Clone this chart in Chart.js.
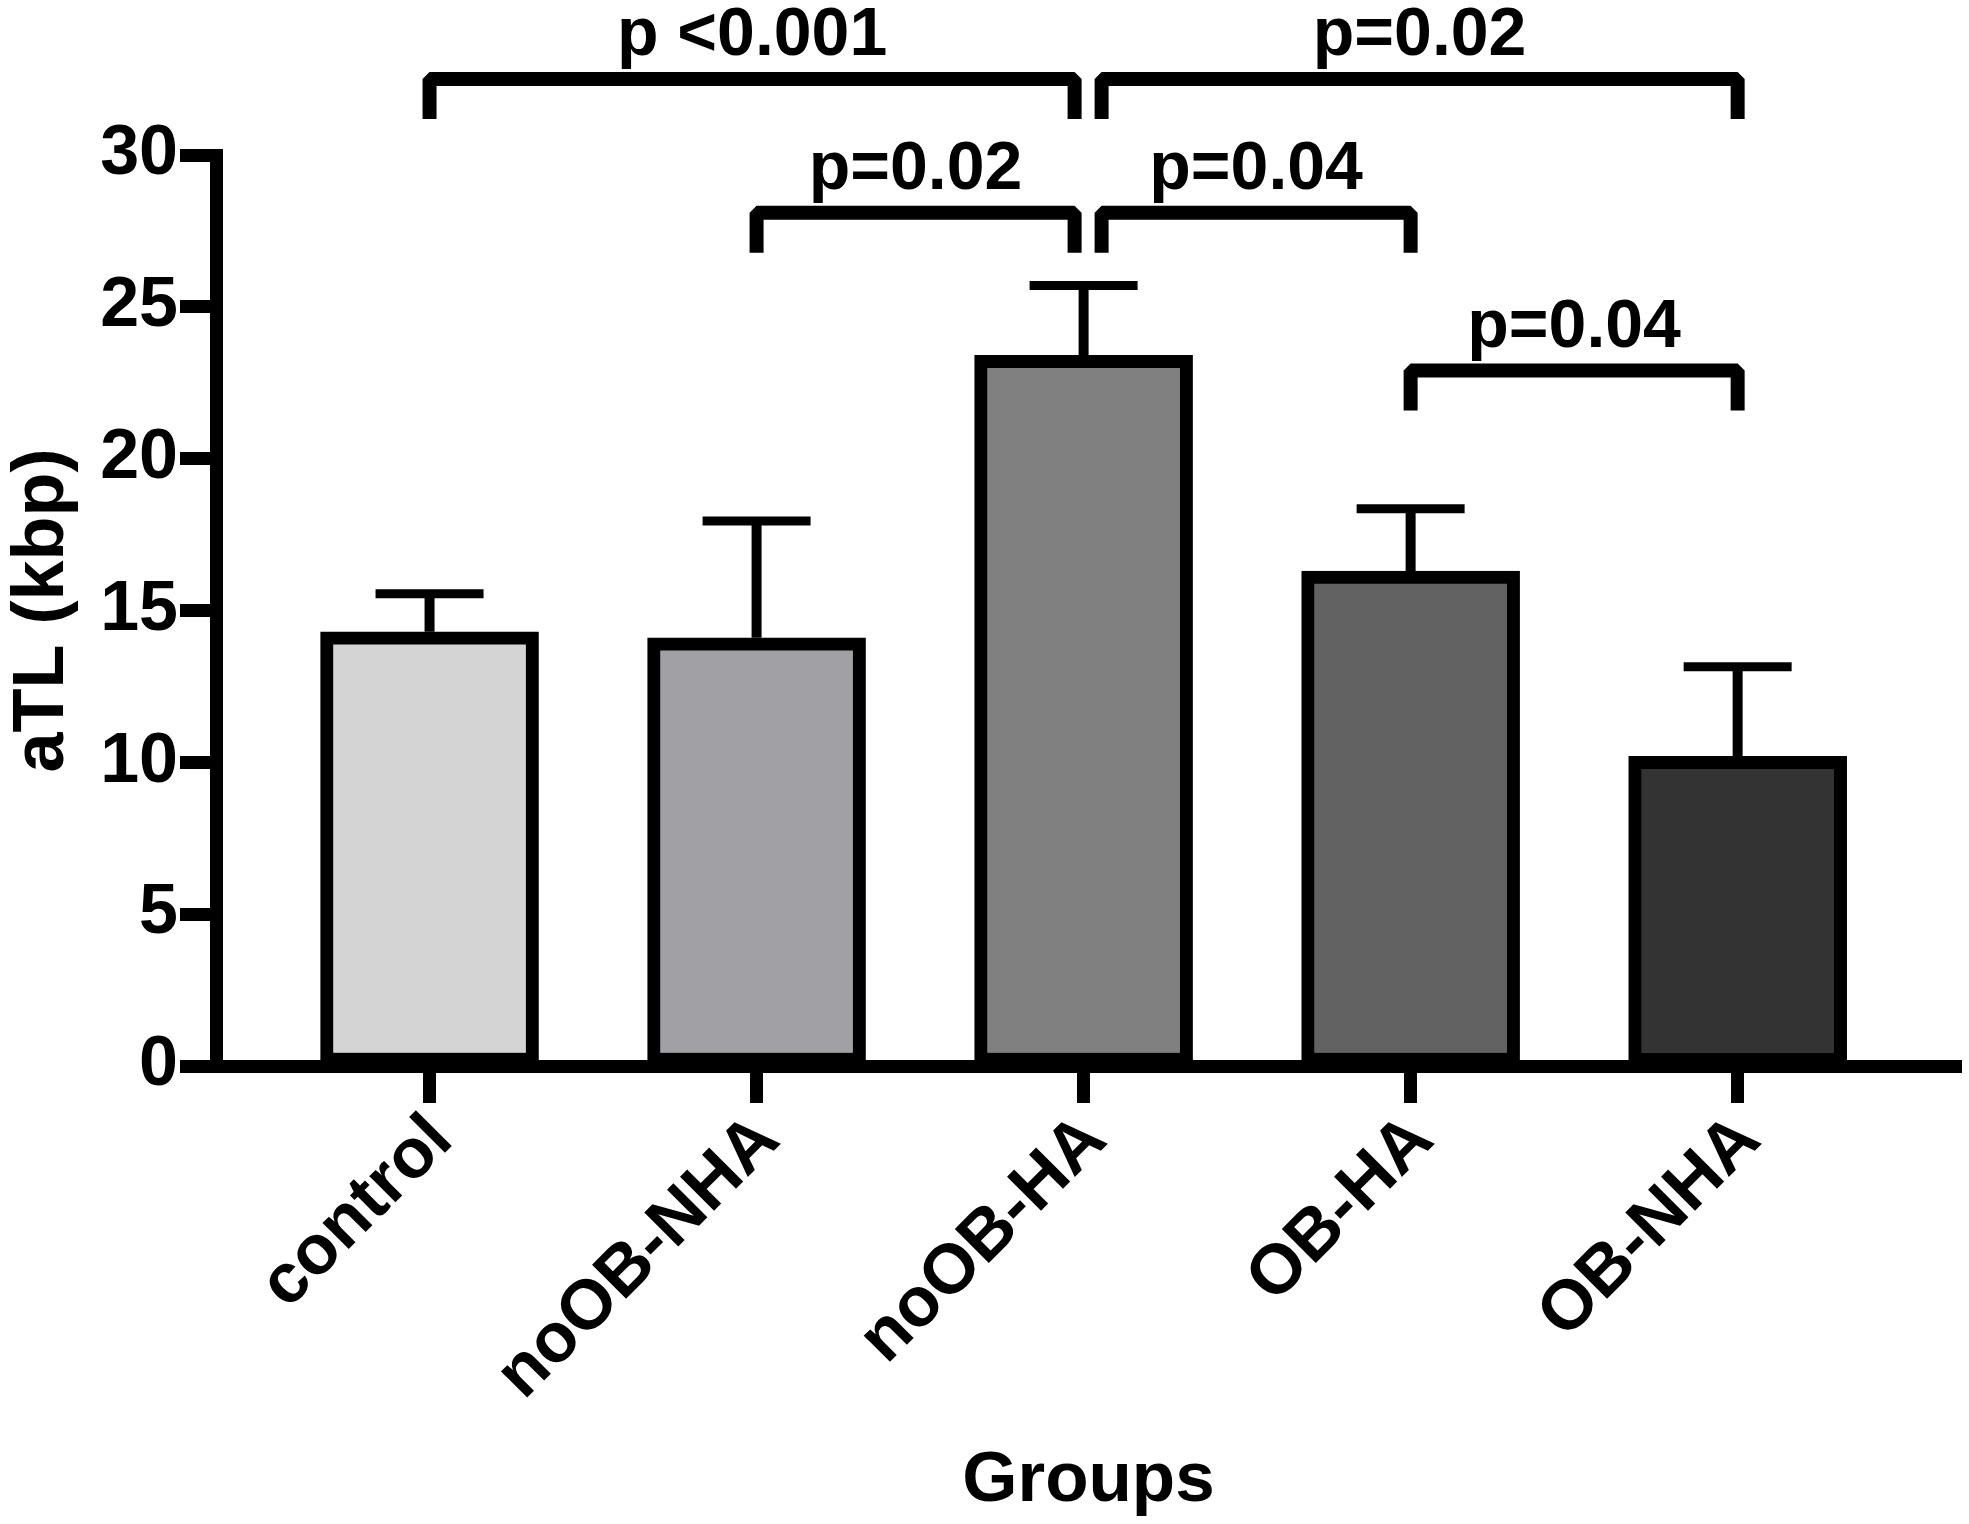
<!DOCTYPE html>
<html>
<head>
<meta charset="utf-8">
<title>aTL by group</title>
<script src="https://cdn.jsdelivr.net/npm/chart.js@4.4.1/dist/chart.umd.min.js"></script>
<style>
  html, body { margin: 0; padding: 0; background: #fff; }
  #wrap { width: 1969px; height: 1524px; }
</style>
</head>
<body>
<div id="wrap"><canvas id="myChart"></canvas></div>
<script>
const groups = ['control', 'noOB-NHA', 'noOB-HA', 'OB-HA', 'OB-NHA'];
const meanTL = [14.3, 14.1, 23.4, 16.3, 10.2];
const semTL = [1.25, 3.85, 2.3, 2.05, 2.95];
const barColors = ['#d4d4d4', '#a1a0a5', '#808080', '#626262', '#333333'];
const yTicks = [0, 5, 10, 15, 20, 25, 30];

// comparisons : from group, to group, bracket height (kbp), label
const cmpFrom = [0, 2, 1, 2, 3];
const cmpTo = [2, 4, 2, 3, 4];
const cmpLevel = [32.5, 32.5, 28.1, 28.1, 22.9];
const cmpLabels = ['p <0.001', 'p=0.02', 'p=0.02', 'p=0.04', 'p=0.04'];

const FONT = "'Liberation Sans', Arial, sans-serif";

// error bars (upper only) + significance brackets
const extras = {
  id: 'extras',
  afterDatasetsDraw(chart) {
    const { ctx, scales: { x, y } } = chart;
    ctx.save();
    ctx.strokeStyle = '#000';
    ctx.fillStyle = '#000';
    ctx.lineCap = 'butt';
    meanTL.forEach((m, i) => {
      const px = x.getPixelForValue(i);
      const top = y.getPixelForValue(m + semTL[i]);
      ctx.lineWidth = 10;
      ctx.beginPath();
      ctx.moveTo(px, y.getPixelForValue(m));
      ctx.lineTo(px, top);
      ctx.stroke();
      ctx.lineWidth = 9;
      ctx.beginPath();
      ctx.moveTo(px - 54, top);
      ctx.lineTo(px + 54, top);
      ctx.stroke();
    });

    ctx.lineWidth = 14;
    ctx.lineJoin = 'bevel';
    ctx.font = `bold 68px ${FONT}`;
    ctx.textAlign = 'center';
    ctx.textBaseline = 'alphabetic';
    cmpFrom.forEach((a, k) => {
      const b = cmpTo[k];
      const lvl = cmpLevel[k];
      // brackets on the same row that meet on one bar are pulled apart a little
      const sameRow = (j) => j !== k && cmpLevel[j] === lvl;
      let x1 = x.getPixelForValue(a);
      let x2 = x.getPixelForValue(b);
      if (cmpTo.some((t, j) => t === a && sameRow(j))) x1 += 18;
      if (cmpFrom.some((f, j) => f === b && sameRow(j))) x2 -= 9;
      const ly = y.getPixelForValue(lvl);
      ctx.beginPath();
      ctx.moveTo(x1, ly + 40);
      ctx.lineTo(x1, ly);
      ctx.lineTo(x2, ly);
      ctx.lineTo(x2, ly + 40);
      ctx.stroke();
      ctx.fillText(cmpLabels[k], (x1 + x2) / 2, ly - 24);
    });
    ctx.restore();
  }
};

let myChart;

const setup = () => {
  const ctxt = document.getElementById('myChart').getContext('2d');

  myChart = new Chart(ctxt, {
    type: 'bar',
    data: {
      datasets: [{
        label: 'aTL',
        data: meanTL.map((v, i) => ({ x: i, y: v })),
        backgroundColor: barColors,
        borderColor: '#000',
        borderWidth: 13,
        borderSkipped: false,
        barThickness: 218
      }]
    },
    options: {
      responsive: true,
      maintainAspectRatio: false,
      animation: false,
      devicePixelRatio: 1,
      layout: { padding: { top: 155, right: 8, bottom: 0, left: 0 } },
      plugins: {
        legend: { display: false },
        tooltip: { enabled: false }
      },
      scales: {
        x: {
          type: 'linear',
          min: -0.653,
          max: 4.683,
          offset: false,
          afterBuildTicks: (ax) => { ax.ticks = groups.map((_, i) => ({ value: i })); },
          afterFit: (ax) => { ax.height = 458; },
          border: { display: true, color: '#000', width: 13 },
          grid: { offset: false, drawOnChartArea: false, drawTicks: true, tickLength: 37, tickWidth: 13, tickColor: '#000', color: '#000' },
          ticks: {
            autoSkip: false,
            maxRotation: 45,
            minRotation: 45,
            padding: 6,
            labelOffset: 12,
            color: '#000',
            font: { family: FONT, size: 70, weight: 'bold', lineHeight: 0.8 },
            callback: (v) => groups[v]
          },
          title: {
            display: true,
            text: 'Groups',
            color: '#000',
            padding: 0,
            font: { family: FONT, size: 71, weight: 'bold' }
          }
        },
        y: {
          min: 0,
          max: 30,
          afterBuildTicks: (ax) => { ax.ticks = yTicks.map((v) => ({ value: v })); },
          afterFit: (ax) => { ax.width = 216; },
          border: { display: true, color: '#000', width: 13 },
          grid: { drawOnChartArea: false, drawTicks: true, tickLength: 36, tickWidth: 13, tickColor: '#000', color: '#000' },
          ticks: {
            padding: 2,
            color: '#000',
            font: { family: FONT, size: 70, weight: 'bold' }
          },
          title: {
            display: true,
            text: 'aTL (kbp)',
            color: '#000',
            padding: 0,
            font: { family: FONT, size: 72, weight: 'bold' }
          }
        }
      }
    },
    plugins: [extras]
  });
};

window.addEventListener('DOMContentLoaded', setup);
</script>
</body>
</html>
